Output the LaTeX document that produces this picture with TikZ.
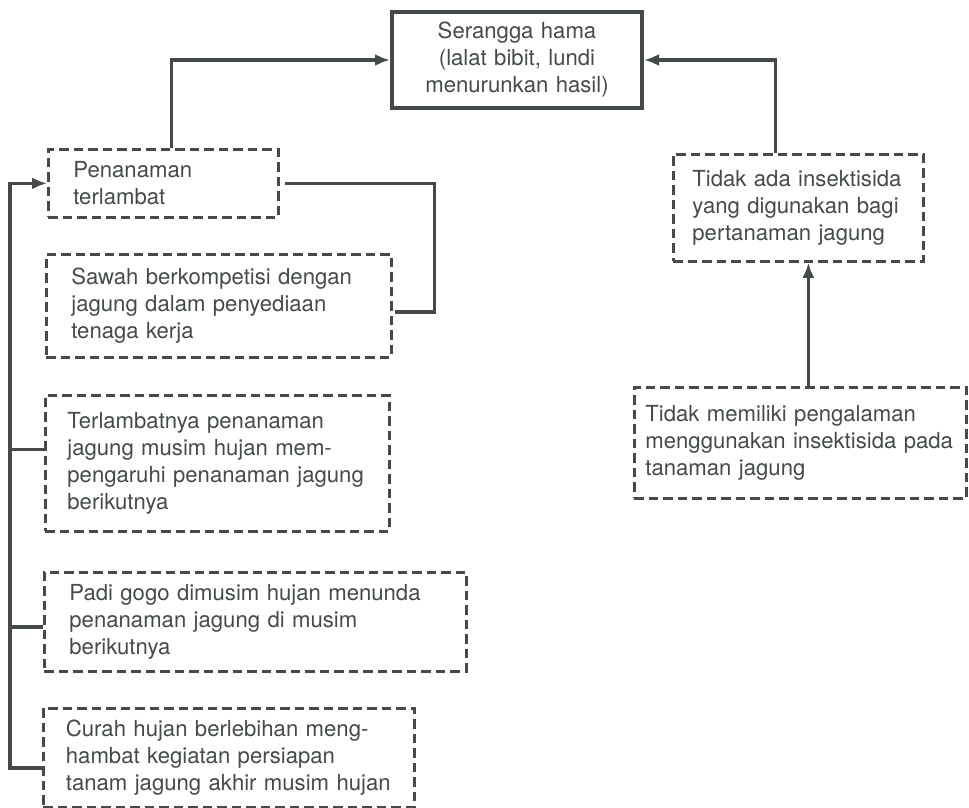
\documentclass[tikz,border=0pt]{standalone}
\usepackage{fontspec}
\setmainfont{TeX Gyre Heros}
\usetikzlibrary{arrows.meta,calc}
\definecolor{ink}{RGB}{68,74,74}

\begin{document}
\begin{tikzpicture}[x=0.02cm, y=-0.02cm, >={Latex[length=0.3cm,width=0.24cm]},
    font=\fontsize{12.6}{15.4}\selectfont,
    factor/.style={draw=ink, text=ink, line width=1.6pt, dash pattern=on 0.19cm off 0.1cm,
        anchor=north west, align=left, inner xsep=0.5cm, inner ysep=0pt},
    effect/.style={draw=ink, text=ink, line width=2.3pt, anchor=north west,
        align=center, inner sep=0pt},
    link/.style={draw=ink, line width=1.9pt}]

    \useasboundingbox (0,0) rectangle (969,807);

    % ================= EFFECT =================
    \node[effect, text width=5cm, minimum height=1.92cm] (hama) at (390,10)
        {Serangga hama\\(lalat bibit, lundi\\menurunkan hasil)};

    % ================= LEFT CHAIN =================
    \node[factor, text width=3.6cm, minimum height=1.36cm] (pen) at (47,148)
        {Penanaman\\terlambat};
    \node[factor, text width=5.9cm, minimum height=2.06cm] (sawah) at (45,253)
        {Sawah berkompetisi dengan\\jagung dalam penyediaan\\tenaga kerja};
    \node[factor, inner xsep=0.44cm, text width=6cm, minimum height=2.72cm] (terlambat) at (44,394)
        {Terlambatnya penanaman\\jagung musim hujan mem-\\pengaruhi penanaman jagung\\berikutnya};
    \node[factor, text width=7.44cm, minimum height=1.98cm] (padi) at (43,571)
        {Padi gogo dimusim hujan menunda\\penanaman jagung di musim\\berikutnya};
    \node[factor, inner xsep=0.45cm, text width=6.52cm, minimum height=1.98cm] (curah) at (42,707)
        {Curah hujan berlebihan meng-\\hambat kegiatan persiapan\\tanam jagung akhir musim hujan};

    % ================= RIGHT CHAIN =================
    \node[factor, inner xsep=0.38cm, text width=4.24cm, minimum height=2.14cm] (insektisida) at (672,153)
        {Tidak ada insektisida\\yang digunakan bagi\\pertanaman jagung};
    \node[factor, inner xsep=0.22cm, text width=6.2cm, minimum height=2.22cm] (pengalaman) at (633,386)
        {Tidak memiliki pengalaman\\menggunakan insektisida pada\\tanaman jagung};

    % ================= CONNECTORS =================
    % to the effect box
    \draw[link,->] ($(pen.north)+(8,0)$) |- (hama.west);
    \draw[link,->] ($(insektisida.north)+(-23,0)$) |- (hama.east);

    % experience -> no insecticide
    \coordinate (upstart) at ($(pengalaman.north)+(8,0)$);
    \draw[link,->] (upstart) -- (upstart |- insektisida.south);

    % labour competition joins late planting
    \draw[link] ($(pen.east)+(5,0)$) -- ++(150,0) |- ($(sawah.east)+(2,6)$);

    % left bus into late planting
    \coordinate (bus) at ($(pen.west)+(-37,0)$);
    \draw[link,->] ($(curah.west)+(0,10)$) -| (bus) -- (pen.west);
    \coordinate (tbranch) at ($(terlambat.west)+(0,-14)$);
    \draw[link] (tbranch) -- (tbranch -| bus);
    \coordinate (pbranch) at ($(padi.west)+(0,5)$);
    \draw[link] (pbranch) -- (pbranch -| bus);

\end{tikzpicture}
\end{document}
